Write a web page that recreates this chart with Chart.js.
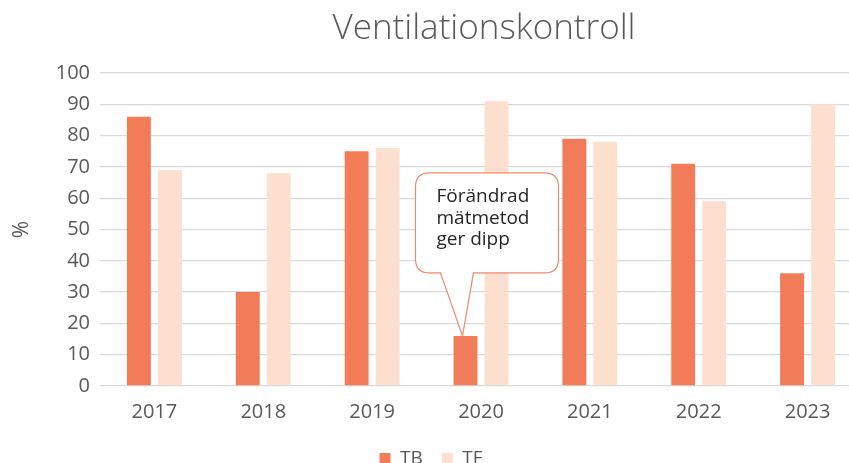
<!DOCTYPE html>
<html lang="sv">
<head>
    <meta charset="UTF-8">
    <title>Ventilationskontroll</title>
    <script src="https://cdn.jsdelivr.net/npm/chart.js"></script>
    <style>
        html, body { margin: 0; padding: 0; background: #fff; overflow: hidden; }
        #chart { position: absolute; left: 0; top: 0; }
    </style>
</head>
<body>
    <canvas id="chart" width="866" height="478"></canvas>
    <script>
        const years = ['2017', '2018', '2019', '2020', '2021', '2022', '2023'];
        const tb = [86, 30, 75, 16, 79, 71, 36];
        const tf = [69, 68, 76, 91, 78, 59, 90];
        const chartTitle = 'Ventilationskontroll';
        const calloutLines = ['Förändrad', 'mätmetod', 'ger dipp'];
        const calloutIndex = 3; // 2020

        const textColor = '#595959';
        const fontFamily = '"Open Sans", Lato, sans-serif';

        // title is centred over the plot area, not the whole canvas
        const plotTitle = {
            id: 'plotTitle',
            afterDraw(chart) {
                const a = chart.chartArea;
                const ctx = chart.ctx;
                ctx.save();
                ctx.fillStyle = textColor;
                ctx.font = '300 35px ' + fontFamily;
                ctx.textAlign = 'center';
                ctx.textBaseline = 'middle';
                ctx.fillText(chartTitle, (a.left + a.right) / 2 + 3, 29);
                ctx.restore();
            }
        };

        // speech bubble pointing at the TB bar for 2020
        const callout = {
            id: 'callout',
            afterDatasetsDraw(chart) {
                const bar = chart.getDatasetMeta(0).data[calloutIndex];
                const tx = bar.x - 3, ty = bar.y;
                const left = tx - 47, right = tx + 96, top = ty - 163, bottom = ty - 63, r = 14;
                const ctx = chart.ctx;
                ctx.save();
                ctx.beginPath();
                ctx.moveTo(left + r, top);
                ctx.lineTo(right - r, top);
                ctx.quadraticCurveTo(right, top, right, top + r);
                ctx.lineTo(right, bottom - r);
                ctx.quadraticCurveTo(right, bottom, right - r, bottom);
                ctx.lineTo(tx + 11, bottom);
                ctx.lineTo(tx, ty);
                ctx.lineTo(tx - 22, bottom);
                ctx.lineTo(left + r, bottom);
                ctx.quadraticCurveTo(left, bottom, left, bottom - r);
                ctx.lineTo(left, top + r);
                ctx.quadraticCurveTo(left, top, left + r, top);
                ctx.closePath();
                ctx.fillStyle = '#ffffff';
                ctx.fill();
                ctx.strokeStyle = '#EF8A6A';
                ctx.lineWidth = 1.2;
                ctx.stroke();
                ctx.fillStyle = '#262626';
                ctx.font = '19px ' + fontFamily;
                ctx.textBaseline = 'middle';
                ctx.textAlign = 'left';
                calloutLines.forEach((line, i) => {
                    ctx.fillText(line, left + 21, top + 24 + i * 21.5);
                });
                ctx.restore();
            }
        };

        new Chart(document.getElementById('chart'), {
            type: 'bar',
            data: {
                labels: years,
                datasets: [
                    { label: 'TB', data: tb, backgroundColor: '#F27C58' },
                    { label: 'TF', data: tf, backgroundColor: '#FDDFD0' }
                ]
            },
            options: {
                responsive: false,
                animation: false,
                categoryPercentage: 0.57,
                barPercentage: 0.77,
                layout: { padding: { left: 0, right: 4, top: 73, bottom: 0 } },
                plugins: {
                    legend: {
                        position: 'bottom',
                        labels: {
                            color: textColor,
                            font: { family: fontFamily, size: 19 },
                            boxWidth: 11,
                            boxHeight: 11,
                            padding: 19
                        }
                    },
                    tooltip: { enabled: false }
                },
                scales: {
                    x: {
                        grid: { display: false },
                        border: { display: false },
                        ticks: { color: textColor, font: { family: fontFamily, size: 20 }, padding: 6 }
                    },
                    y: {
                        min: 0,
                        max: 100,
                        afterFit(scale) { scale.width = 100; },
                        ticks: { stepSize: 10, color: textColor, font: { family: fontFamily, size: 20 }, padding: 10 },
                        grid: { color: '#D9D9D9', lineWidth: 1.3, drawTicks: false },
                        border: { display: false },
                        title: {
                            display: true,
                            text: '%',
                            color: textColor,
                            font: { family: fontFamily, size: 21 },
                            padding: { top: 9 }
                        }
                    }
                }
            },
            plugins: [callout, plotTitle]
        });
    </script>
</body>
</html>
